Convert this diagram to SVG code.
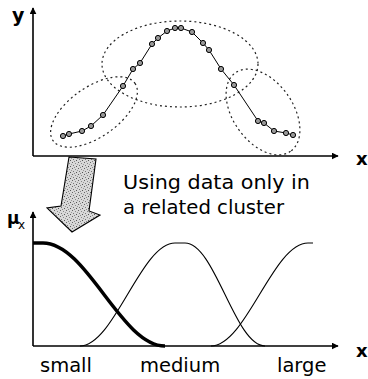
<svg xmlns="http://www.w3.org/2000/svg" width="368" height="379" viewBox="0 0 368 379">
<style>
.axis{stroke:#000;stroke-width:1.6;fill:none}
.clus{stroke:#222;stroke-width:1.2;fill:none;stroke-dasharray:2 3}
.pt{fill:#999;stroke:#000;stroke-width:1}
.mf{stroke:#000;stroke-width:1.1;fill:none}
.lbl{font-family:"DejaVu Sans",sans-serif;fill:#000}
</style>
<defs>
<marker id="ah" viewBox="0 0 10 10" refX="9" refY="5" markerWidth="7" markerHeight="7" markerUnits="userSpaceOnUse" orient="auto"><path d="M0,0 L10,5 L0,10 Z" fill="#000"/></marker>
<pattern id="stip" width="6" height="6" patternUnits="userSpaceOnUse">
<rect width="6" height="6" fill="#d8d8d8"/>
<rect x="0" y="0" width="1" height="1" fill="#666"/>
<rect x="3" y="1" width="1" height="1" fill="#888"/>
<rect x="1" y="3" width="1" height="1" fill="#777"/>
<rect x="4" y="4" width="1" height="1" fill="#555"/>
<rect x="5" y="2" width="1" height="1" fill="#999"/>
<rect x="2" y="5" width="1" height="1" fill="#888"/>
</pattern>
</defs>
<g id="top-plot">
<line class="axis" x1="33" y1="156" x2="33" y2="8" marker-end="url(#ah)"/>
<line class="axis" x1="33" y1="156" x2="338" y2="156" marker-end="url(#ah)"/>
<text class="lbl" x="12" y="22" font-size="19" font-weight="bold">y</text>
<text class="lbl" x="356" y="165" font-size="18" font-weight="bold">x</text>
</g>
<g id="clusters">
<ellipse class="clus" cx="94" cy="112" rx="50" ry="25" transform="rotate(-35 94 112)"/>
<ellipse class="clus" cx="180" cy="64" rx="78" ry="43"/>
<ellipse class="clus" cx="263" cy="112" rx="48" ry="30" transform="rotate(55 263 112)"/>
</g>
<g id="data">
<polyline fill="none" stroke="#000" stroke-width="1" points="63,136 69,134 82,131 91,126 103,115 123,86 133,69 140,63 152,44 158,38 167,31 175,28 181,28 192,32 203,43 209,50 221,69 234,85 258,121 264,123 274,131 286,133 293,135"/>
<g>
<circle class="pt" cx="63" cy="136" r="2.6"/><circle class="pt" cx="69" cy="134" r="2.6"/><circle class="pt" cx="82" cy="131" r="2.6"/><circle class="pt" cx="91" cy="126" r="2.6"/><circle class="pt" cx="103" cy="115" r="2.6"/><circle class="pt" cx="123" cy="86" r="2.6"/><circle class="pt" cx="133" cy="69" r="2.6"/><circle class="pt" cx="140" cy="63" r="2.6"/><circle class="pt" cx="152" cy="44" r="2.6"/><circle class="pt" cx="158" cy="38" r="2.6"/><circle class="pt" cx="167" cy="31" r="2.6"/><circle class="pt" cx="175" cy="28" r="2.6"/><circle class="pt" cx="181" cy="28" r="2.6"/><circle class="pt" cx="192" cy="32" r="2.6"/><circle class="pt" cx="203" cy="43" r="2.6"/><circle class="pt" cx="209" cy="50" r="2.6"/><circle class="pt" cx="221" cy="69" r="2.6"/><circle class="pt" cx="234" cy="85" r="2.6"/><circle class="pt" cx="258" cy="121" r="2.6"/><circle class="pt" cx="264" cy="123" r="2.6"/><circle class="pt" cx="274" cy="131" r="2.6"/><circle class="pt" cx="286" cy="133" r="2.6"/><circle class="pt" cx="293" cy="135" r="2.6"/>
</g>
</g>
<g id="big-arrow">
<polygon points="69,157 96,159 89,211 100,215 72,232 47,208 61,206" fill="url(#stip)" stroke="#000" stroke-width="1.1" stroke-linejoin="miter"/>
</g>
<g id="caption">
<text class="lbl" x="123" y="189" font-size="19.5" textLength="187" lengthAdjust="spacingAndGlyphs">Using data only in</text>
<text class="lbl" x="123" y="214" font-size="19.5" textLength="161" lengthAdjust="spacingAndGlyphs">a related cluster</text>
</g>
<g id="bottom-plot">
<line class="axis" x1="33" y1="346" x2="33" y2="212" marker-end="url(#ah)"/>
<line class="axis" x1="33" y1="346" x2="338" y2="346" marker-end="url(#ah)"/>
<text class="lbl" x="7" y="224" font-size="17" font-weight="bold">μ</text>
<text class="lbl" x="18" y="229" font-size="12">x</text>
<text class="lbl" x="356" y="357" font-size="18" font-weight="bold">x</text>
</g>
<g id="membership">
<path d="M33,243 L43,243 C87,243 121,346 165,346" fill="none" stroke="#000" stroke-width="3.5"/>
<path class="mf" d="M80,346 C114,346 141,243 175,243 L185,243 C215,243 235,346 265,346"/>
<path class="mf" d="M211,346 C246,346 273,243 308,243 L313,243"/>
</g>
<g id="labels">
<text class="lbl" x="40" y="372" font-size="19.5">small</text>
<text class="lbl" x="140" y="372" font-size="19.5">medium</text>
<text class="lbl" x="277" y="372" font-size="19.5">large</text>
</g>
</svg>
